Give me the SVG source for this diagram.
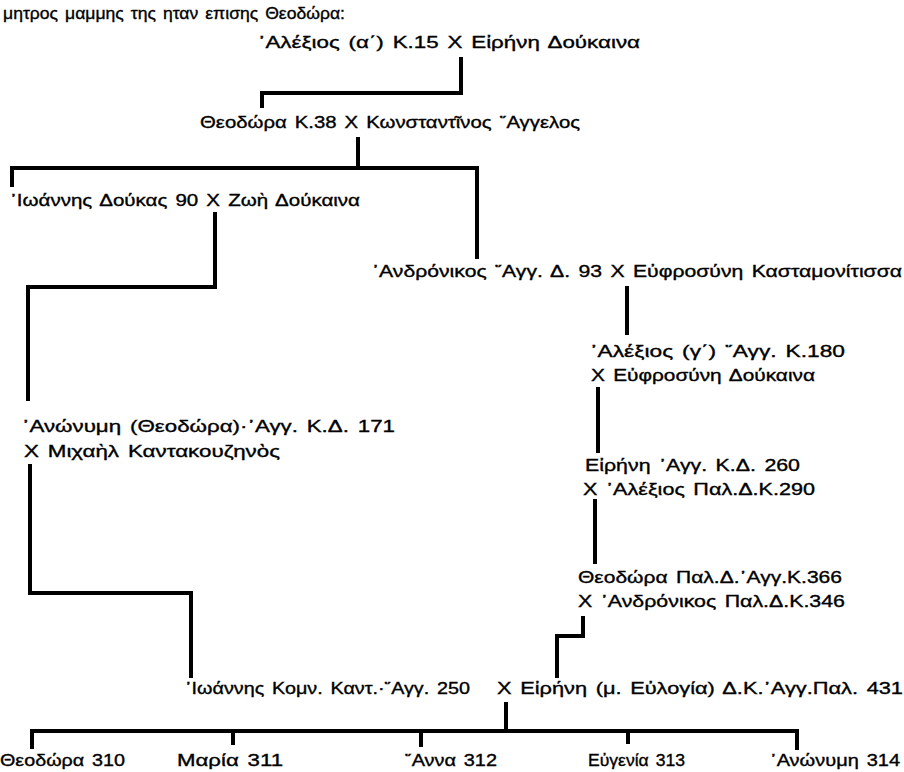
<svg xmlns="http://www.w3.org/2000/svg" width="904" height="772" viewBox="0 0 904 772">
<style>
text{font-family:"Liberation Sans","DejaVu Sans",Arial,sans-serif;font-size:17px;word-spacing:2px;fill:#000;stroke:#000;stroke-width:0.35}
.c{fill:none;stroke:#000;stroke-width:4;stroke-linecap:square;stroke-linejoin:miter}
</style>
<rect width="904" height="772" fill="#fff"/>
<g id="connectors">
<path class="c" d="M461,59 V93 H262 V106"/>
<path class="c" d="M358,139 V168"/>
<path class="c" d="M12,185 V168 H477 V257"/>
<path class="c" d="M215,214 V287 H28 V399"/>
<path class="c" d="M627,288 V333"/>
<path class="c" d="M598,389 V451"/>
<path class="c" d="M30,466 V593 H191 V676"/>
<path class="c" d="M595,501 V562"/>
<path class="c" d="M583,618 V636 H557 V676"/>
<path class="c" d="M506,704 V731"/>
<path class="c" d="M32,731 H797"/>
<path class="c" d="M32,731 V747 M233,731 V743 M421,731 V745 M628,731 V742 M797,731 V748"/>
</g>
<g id="title"><text x="3" y="19" textLength="342" lengthAdjust="spacingAndGlyphs">μητρος μαμμης της ηταν επισης Θεοδώρα:</text></g>
<g id="n-alexios1"><text x="258" y="48" textLength="382" lengthAdjust="spacingAndGlyphs">᾿Αλέξιος (α΄) Κ.15 Χ Εἰρήνη Δούκαινα</text></g>
<g id="n-theodora38"><text x="200" y="128" textLength="380" lengthAdjust="spacingAndGlyphs">Θεοδώρα Κ.38 Χ Κωνσταντῖνος ῞Αγγελος</text></g>
<g id="n-ioannis90"><text x="10" y="206" textLength="350" lengthAdjust="spacingAndGlyphs">᾿Ιωάννης Δούκας 90 Χ Ζωὴ Δούκαινα</text></g>
<g id="n-andronikos93"><text x="372" y="277" textLength="530" lengthAdjust="spacingAndGlyphs">᾿Ανδρόνικος ῞Αγγ. Δ. 93 Χ Εὐφροσύνη Κασταμονίτισσα</text></g>
<g id="n-alexios180"><text x="590" y="357" textLength="255" lengthAdjust="spacingAndGlyphs">᾿Αλέξιος (γ΄) ῞Αγγ. Κ.180</text><text x="591" y="381" textLength="224" lengthAdjust="spacingAndGlyphs">Χ Εὐφροσύνη Δούκαινα</text></g>
<g id="n-anonymi171"><text x="22" y="432" textLength="373" lengthAdjust="spacingAndGlyphs">᾿Ανώνυμη (Θεοδώρα)·᾿Αγγ. Κ.Δ. 171</text><text x="24" y="457" textLength="256" lengthAdjust="spacingAndGlyphs">Χ Μιχαὴλ Καντακουζηνὸς</text></g>
<g id="n-eirini260"><text x="585" y="471" textLength="215" lengthAdjust="spacingAndGlyphs">Εἰρήνη ᾿Αγγ. Κ.Δ. 260</text><text x="583" y="495" textLength="232" lengthAdjust="spacingAndGlyphs">Χ ᾿Αλέξιος Παλ.Δ.Κ.290</text></g>
<g id="n-theodora366"><text x="578" y="583" textLength="264" lengthAdjust="spacingAndGlyphs">Θεοδώρα Παλ.Δ.᾿Αγγ.Κ.366</text><text x="578" y="607" textLength="267" lengthAdjust="spacingAndGlyphs">Χ ᾿Ανδρόνικος Παλ.Δ.Κ.346</text></g>
<g id="n-ioannis250"><text x="185" y="694" textLength="285" lengthAdjust="spacingAndGlyphs">᾿Ιωάννης Κομν. Καντ.·῞Αγγ. 250</text></g>
<g id="n-eirini431"><text x="497" y="694" textLength="406" lengthAdjust="spacingAndGlyphs">Χ Εἰρήνη (μ. Εὐλογία) Δ.Κ.᾿Αγγ.Παλ. 431</text></g>
<g id="n-theodora310"><text x="0" y="766" textLength="125" lengthAdjust="spacingAndGlyphs">Θεοδώρα 310</text></g>
<g id="n-maria311"><text x="177" y="766" textLength="106" lengthAdjust="spacingAndGlyphs">Μαρία 311</text></g>
<g id="n-anna312"><text x="405" y="766" textLength="92" lengthAdjust="spacingAndGlyphs">῞Αννα 312</text></g>
<g id="n-eugenia313"><text x="588" y="766" textLength="97" lengthAdjust="spacingAndGlyphs">Εὐγενία 313</text></g>
<g id="n-anonymi314"><text x="770" y="766" textLength="130" lengthAdjust="spacingAndGlyphs">᾿Ανώνυμη 314</text></g>
</svg>
